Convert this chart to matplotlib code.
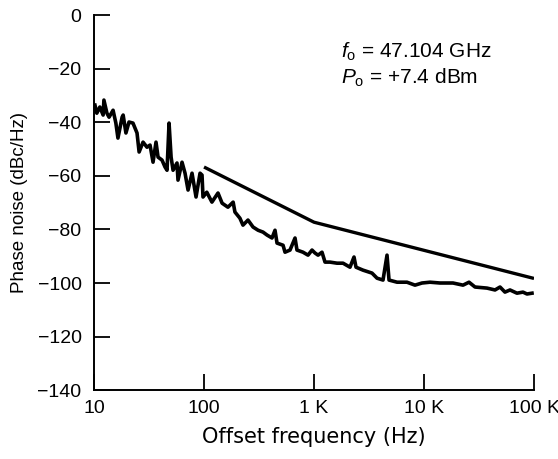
import matplotlib
matplotlib.use("Agg")
import matplotlib.pyplot as plt
import numpy as np

plt.rcParams['font.family'] = ['Liberation Sans', 'DejaVu Sans']
plt.rcParams['mathtext.fontset'] = 'custom'
plt.rcParams['mathtext.rm'] = 'Liberation Sans'
plt.rcParams['mathtext.it'] = 'Liberation Sans:italic'

# Measured phase noise (Hz, dBc/Hz)
meas_freq = [10.2, 10.6, 11.3, 12.1, 12.3, 13.1, 13.7, 14.9, 15.8, 16.5, 18.0, 18.4,
             19.5, 20.8, 22.6, 24.6, 25.7, 27.9, 30.3, 32.3, 34.4, 36.6, 38.2, 41.5,
             44.2, 46.1, 48.1, 50.2, 52.3, 56.8, 58.0, 63.1, 67.2, 71.6, 77.8, 84.6,
             92.0, 95.9, 97.9, 106, 118, 134, 146, 165, 184, 191, 212, 226, 251, 279,
             310, 344, 374, 415, 442, 461, 523, 545, 605, 672, 700, 794, 882, 959,
             1021, 1088, 1182, 1259, 1397, 1618, 1836, 2124, 2310, 2409, 2788, 3367,
             3740, 4239, 4610, 4808, 5689, 7000, 8280, 9590, 11340, 13970, 18360,
             22630, 25650, 29090, 37390, 44190, 49090, 54450, 60500, 70000, 79400,
             86300, 95900]
meas_db = [-33.6, -36.6, -34.3, -37.3, -31.7, -36.6, -38.1, -35.5, -40.3, -45.9, -38.1, -37.3,
           -44.0, -39.9, -40.3, -44.0, -51.1, -47.4, -49.3, -48.5, -54.9, -47.4, -53.0, -54.1,
           -56.7, -57.9, -40.3, -53.0, -57.9, -55.2, -61.6, -54.9, -59.0, -65.3, -59.0, -67.9,
           -59.0, -59.7, -67.9, -66.1, -69.8, -66.4, -70.2, -71.7, -69.8, -73.5, -75.8, -78.4,
           -76.5, -79.1, -80.3, -81.0, -82.1, -83.2, -80.3, -85.1, -85.9, -88.5, -87.7, -83.2,
           -87.7, -88.5, -89.6, -87.7, -88.8, -89.6, -88.5, -92.2, -92.2, -92.6, -92.6, -94.1,
           -90.3, -94.1, -95.2, -96.3, -98.2, -98.9, -89.6, -98.9, -99.7, -99.7, -100.8, -100.0,
           -99.7, -100.0, -100.0, -100.8, -99.7, -101.5, -101.9, -102.6, -101.5, -103.4, -102.6,
           -103.8, -103.4, -104.1, -103.8]

# Specification line
spec_freq = [100, 1000, 100000]
spec_db = [-56.7, -77.3, -98.3]

xticks = [10, 100, 1000, 10000, 100000]
xticklabels = ['10', '100', '1 K', '10 K', '100 K']
yticks = [0, -20, -40, -60, -80, -100, -120, -140]

fig = plt.figure(figsize=(5.58, 4.59), dpi=100)
ax = fig.add_axes([0.1685, 0.150, 0.7885, 0.817])

ax.plot(meas_freq, meas_db, color='black', lw=2.6, solid_joinstyle='round')
ax.plot(spec_freq, spec_db, color='black', lw=2.4, solid_capstyle='butt')

ax.set_xscale('log')
ax.set_xlim(10, 100000)
ax.set_ylim(-140, 0)
ax.set_xticks(xticks)
ax.set_xticklabels(xticklabels)
ax.minorticks_off()
ax.set_yticks(yticks)
ax.set_yticklabels([str(v).replace('-', '\u2212') for v in yticks])

for s in ['top', 'right']:
    ax.spines[s].set_visible(False)
for s in ['left', 'bottom']:
    ax.spines[s].set_linewidth(1.4)

ax.tick_params(axis='both', direction='in', length=11.5, width=1.3, labelsize=14)
ax.tick_params(axis='y', pad=9)
ax.tick_params(axis='x', pad=7)

ax.set_xlabel('Offset frequency (Hz)', fontsize=15, labelpad=7,
              family=['DejaVu Sans'])
ax.set_ylabel('Phase noise (dBc/Hz)', fontsize=13.5, labelpad=7)

ax.text(0.562, 0.903, r'$\mathit{f}_{\mathrm{o}}$ = 47.104 GHz', transform=ax.transAxes,
        fontsize=15, va='center', ha='left')
ax.text(0.562, 0.833, r'$\mathit{P}_{\mathrm{o}}$ = +7.4 dBm', transform=ax.transAxes,
        fontsize=15, va='center', ha='left')

fig.savefig('out.png', dpi=100)
